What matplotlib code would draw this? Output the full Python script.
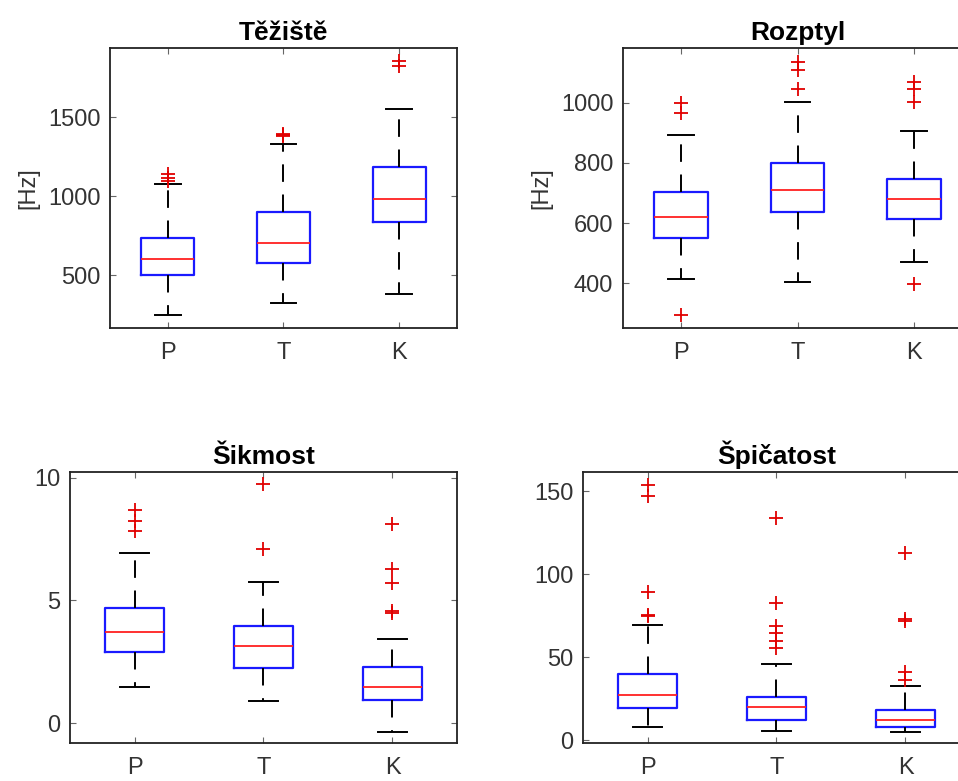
import matplotlib
matplotlib.use("Agg")
import matplotlib.pyplot as plt

plt.rcParams['font.family'] = ['Liberation Sans', 'DejaVu Sans']

groups = ['P', 'T', 'K']

# Těžiště [Hz]
tez_q1 = [500, 578, 837]
tez_med = [605, 707, 981]
tez_q3 = [736, 901, 1185]
tez_lo = [247, 325, 384]
tez_hi = [1080, 1329, 1551]
tez_fl = [[1095, 1115, 1140], [1378, 1386, 1395], [1823, 1854]]

# Rozptyl [Hz]
roz_q1 = [550, 637, 613]
roz_med = [620, 711, 680]
roz_q3 = [702, 800, 745]
roz_lo = [415, 403, 472]
roz_hi = [893, 1001, 907]
roz_fl = [[295, 965, 1000], [1047, 1108, 1136], [398, 1001, 1047, 1069]]

# Šikmost
sik_q1 = [2.89, 2.26, 0.95]
sik_med = [3.70, 3.16, 1.46]
sik_q3 = [4.70, 3.97, 2.28]
sik_lo = [1.46, 0.91, -0.37]
sik_hi = [6.95, 5.73, 3.44]
sik_fl = [[7.82, 8.22, 8.70], [7.11, 9.73], [4.47, 4.58, 5.69, 6.27, 8.13]]

# Špičatost
spi_q1 = [19.2, 12.0, 8.2]
spi_med = [27.2, 20.2, 12.0]
spi_q3 = [40.2, 26.0, 18.0]
spi_lo = [8.2, 5.6, 5.2]
spi_hi = [69.2, 46.0, 32.6]
spi_fl = [[74.6, 75.6, 89.2, 147.0, 153.6],
          [55.6, 59.6, 64.6, 68.6, 83.0, 134.0],
          [36.6, 41.2, 71.6, 73.0, 113.0]]

panels = [
    dict(title='Těžiště', q1=tez_q1, med=tez_med, q3=tez_q3, lo=tez_lo, hi=tez_hi,
         fl=tez_fl, ylim=(166, 1938), yticks=[500, 1000, 1500], ylabel='[Hz]',
         pos=[110, 48, 347, 280]),
    dict(title='Rozptyl', q1=roz_q1, med=roz_med, q3=roz_q3, lo=roz_lo, hi=roz_hi,
         fl=roz_fl, ylim=(251, 1182), yticks=[400, 600, 800, 1000], ylabel='[Hz]',
         pos=[623, 48, 349, 280]),
    dict(title='Šikmost', q1=sik_q1, med=sik_med, q3=sik_q3, lo=sik_lo, hi=sik_hi,
         fl=sik_fl, ylim=(-0.81, 10.23), yticks=[0, 5, 10], ylabel=None,
         pos=[70, 472, 387, 271]),
    dict(title='Špičatost', q1=spi_q1, med=spi_med, q3=spi_q3, lo=spi_lo, hi=spi_hi,
         fl=spi_fl, ylim=(-1.6, 161.6), yticks=[0, 50, 100, 150], ylabel=None,
         pos=[583, 472, 387, 271]),
]

W, H = 958, 781
fig = plt.figure(figsize=(W / 100, H / 100), dpi=100)

for p in panels:
    x0, y0, w, h = p['pos']
    ax = fig.add_axes([x0 / W, (H - y0 - h) / H, w / W, h / H])
    stats = []
    for i, g in enumerate(groups):
        stats.append(dict(label=g, q1=p['q1'][i], med=p['med'][i], q3=p['q3'][i],
                          whislo=p['lo'][i], whishi=p['hi'][i], fliers=p['fl'][i]))
    ax.bxp(stats, positions=[1, 2, 3], widths=0.46, capwidths=0.22,
           boxprops=dict(color='#1a1aff', linewidth=1.6),
           medianprops=dict(color='#ff2020', linewidth=1.3),
           whiskerprops=dict(color='black', linewidth=1.4, linestyle=(0, (9, 6.5))),
           capprops=dict(color='black', linewidth=1.4),
           flierprops=dict(marker='+', markeredgecolor='#e00000', markersize=10,
                           markeredgewidth=1.3, linestyle='none'))
    ax.set_xlim(0.5, 3.5)
    ax.set_ylim(*p['ylim'])
    ax.set_yticks(p['yticks'])
    ax.set_xticks([1, 2, 3])
    ax.set_xticklabels(groups)
    ax.tick_params(direction='in', length=4, width=0.8, color='#666666',
                   top=True, right=True, labelsize=17, labelcolor='#333333')
    ax.tick_params(axis='x', pad=10)
    ax.tick_params(axis='y', pad=7)
    for s in ax.spines.values():
        s.set_linewidth(1.3)
        s.set_color('#222222')
    ax.set_title(p['title'], fontsize=19, fontweight='bold', pad=6)
    if p['ylabel']:
        ax.set_ylabel(p['ylabel'], fontsize=17, color='#333333', labelpad=6)

fig.savefig('out.png', dpi=100)
